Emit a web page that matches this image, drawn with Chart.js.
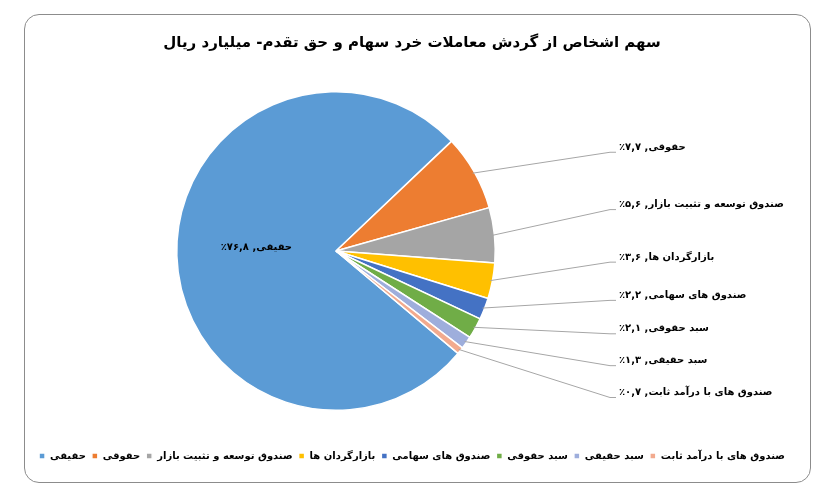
<!DOCTYPE html>
<html>
<head>
<meta charset="utf-8">
<script src="https://cdn.jsdelivr.net/npm/chart.js@4.4.1/dist/chart.umd.min.js"></script>
<style>
  html, body { margin: 0; padding: 0; background: #fff; }
  #wrap { position: relative; width: 824px; height: 493px; }
  #frame {
    position: absolute; left: 24px; top: 14px; width: 785px; height: 467px;
    border: 1.5px solid #8c8c8c; border-radius: 15px; pointer-events: none;
  }
</style>
</head>
<body>
<div id="wrap">
  <div id="frame"></div>
  <canvas id="share"></canvas>
</div>
<script>
const chartTitle = 'سهم اشخاص از گردش معاملات خرد سهام و حق تقدم- میلیارد ریال';
const categories = [
    'حقیقی',
    'حقوقی',
    'صندوق توسعه و تثبیت بازار',
    'بازارگردان ها',
    'صندوق های سهامی',
    'سبد حقوقی',
    'سبد حقیقی',
    'صندوق های با درآمد ثابت'
];
const shares = [76.8, 7.7, 5.6, 3.6, 2.2, 2.1, 1.3, 0.7];
const sliceColors = ['#5b9bd5', '#ed7d31', '#a5a5a5', '#ffc000', '#4472c4', '#70ad47', '#9eaedc', '#f2aa8e'];

const FONT = "'DejaVu Sans', sans-serif";

// persian digits, comma as decimal mark
function faNum(v) {
    return v.toFixed(1).replace('.', ',').replace(/[0-9]/g, d => '۰۱۲۳۴۵۶۷۸۹'[d]);
}

// put the pie on the left side of the frame, like the excel original
const piePlace = {
    id: 'piePlace',
    afterLayout(chart, args, opts) {
        const a = chart.chartArea;
        a.left = opts.cx - opts.r;
        a.right = opts.cx + opts.r;
        a.top = opts.cy - opts.r;
        a.bottom = opts.cy + opts.r;
        a.width = a.height = opts.r * 2;
    }
};

// data labels with leader lines
const callouts = {
    id: 'callouts',
    afterDatasetsDraw(chart, args, opts) {
        const ctx = chart.ctx;
        const arcs = chart.getDatasetMeta(0).data;
        ctx.save();
        ctx.font = 'bold 10px ' + FONT;
        ctx.direction = 'rtl';
        ctx.fillStyle = '#000';
        arcs.forEach((arc, i) => {
            const text = categories[i] + ', ' + faNum(shares[i]) + '٪';
            if (i === 0) {
                const p = arc.tooltipPosition();
                ctx.textAlign = 'center';
                ctx.textBaseline = 'middle';
                ctx.fillText(text, p.x, p.y - 6);
                return;
            }
            const mid = (arc.startAngle + arc.endAngle) / 2;
            const sx = arc.x + Math.cos(mid) * (arc.outerRadius - 2);
            const sy = arc.y + Math.sin(mid) * (arc.outerRadius - 2);
            const ly = arc.y + opts.rows[i] * arc.outerRadius;
            const lx = opts.labelX;
            ctx.strokeStyle = '#a6a6a6';
            ctx.lineWidth = 1;
            ctx.beginPath();
            ctx.moveTo(sx, sy);
            ctx.lineTo(lx - 9, ly);
            ctx.lineTo(lx - 3, ly);
            ctx.stroke();
            ctx.textAlign = 'left';
            ctx.textBaseline = 'middle';
            ctx.fillText(text, lx, ly - 5);
        });
        ctx.restore();
    }
};

const ctx = document.getElementById('share').getContext('2d');
const shareChart = new Chart(ctx, {
    type: 'pie',
    data: {
        labels: categories,
        datasets: [{
            data: shares,
            backgroundColor: sliceColors,
            borderColor: '#ffffff',
            borderWidth: 1.5,
            hoverOffset: 0
        }]
    },
    options: {
        responsive: true,
        maintainAspectRatio: false,
        animation: false,
        rotation: 130,
        layout: { padding: { left: 10, right: 10, top: 14, bottom: 22 } },
        plugins: {
            title: {
                display: true,
                text: chartTitle,
                color: '#000',
                font: { family: FONT, size: 15, weight: 'bold' },
                padding: { top: 20, bottom: 10 }
            },
            legend: {
                position: 'bottom',
                labels: {
                    color: '#000',
                    font: { family: FONT, size: 10, weight: 'bold' },
                    usePointStyle: true,
                    pointStyle: 'rect',
                    boxWidth: 6,
                    boxHeight: 6,
                    padding: 6
                }
            },
            tooltip: { enabled: false },
            piePlace: { cx: 336, cy: 251, r: 160 },
            callouts: {
                labelX: 619,
                rows: [0, -0.62, -0.26, 0.07, 0.31, 0.52, 0.72, 0.92]
            }
        }
    },
    plugins: [piePlace, callouts]
});
</script>
</body>
</html>
